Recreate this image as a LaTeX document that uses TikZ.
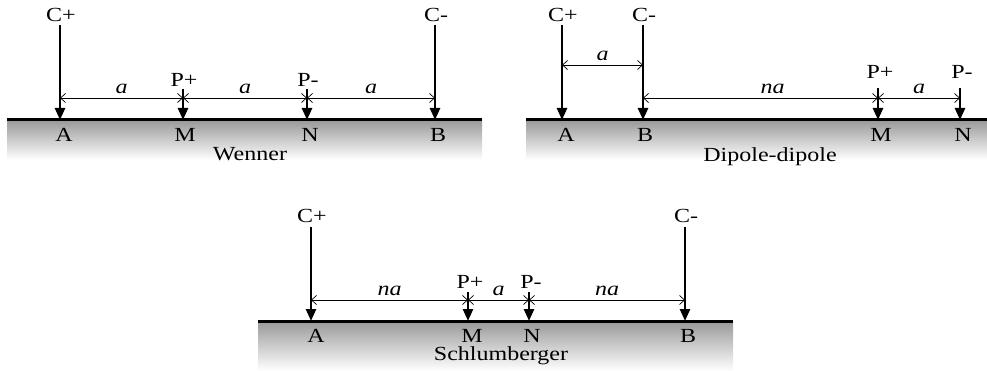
\documentclass[tikz,border=0pt]{standalone}
\usepackage{fontspec}
\setmainfont{Liberation Serif}[FakeStretch=1.2]
\usetikzlibrary{arrows.meta}

\begin{document}
\begin{tikzpicture}[x=1pt, y=-1pt,
  electrode/.style={line width=2.5pt, -{Triangle[length=12pt,width=10pt]}},
  dim/.style={line width=0.7pt, {Straight Barb[length=5pt,width=9pt]}-{Straight Barb[length=5pt,width=9pt]}},
  lbl/.style={font=\fontsize{20}{23}\selectfont, inner sep=1pt},
  ground/.style={line width=3pt},
  soil/.style={top color=black!40, bottom color=white, draw=none}]
\useasboundingbox (0,0) rectangle (987,371);

% Wenner
\shade[soil] (7,120) rectangle (482,160);
\draw[ground] (7,120) -- (482,120);
\coordinate (wA) at (60,120);
\coordinate (wM) at (183,120);
\coordinate (wN) at (307,120);
\coordinate (wB) at (435,120);
\node[lbl] (wCp) at (61,15) {C+};
\node[lbl] (wCm) at (436,15) {C-};
\node[lbl] (wPp) at (184,80) {P+};
\node[lbl] (wPm) at (308,80) {P-};
\coordinate (wAt) at (60,25);
\coordinate (wBt) at (435,25);
\coordinate (wMt) at (183,89);
\coordinate (wNt) at (307,89);
\draw[electrode] (wAt) -- (wA);
\draw[electrode] (wBt) -- (wB);
\draw[electrode] (wMt) -- (wM);
\draw[electrode] (wNt) -- (wN);
\coordinate (wdA) at (60,98);
\coordinate (wdM) at (183,98);
\coordinate (wdN) at (307,98);
\coordinate (wdB) at (435,98);
\draw[dim] (wdA) -- node[lbl, above=3pt] {\textit{a}} (wdM);
\draw[dim] (wdM) -- node[lbl, above=3pt] {\textit{a}} (wdN);
\draw[dim] (wdN) -- node[lbl, above=3pt] {\textit{a}} (wdB);
\node[lbl] (wAl) at (64,135) {A};
\node[lbl] (wMl) at (185,135) {M};
\node[lbl] (wNl) at (310,135) {N};
\node[lbl] (wBl) at (438,135) {B};
\node[lbl] (wTitle) at (250,154) {Wenner};

% Dipole-dipole
\shade[soil] (526,120) rectangle (987,160);
\draw[ground] (526,120) -- (987,120);
\coordinate (dA) at (562,120);
\coordinate (dB) at (643,120);
\coordinate (dM) at (878,120);
\coordinate (dN) at (960,120);
\node[lbl] (dCp) at (563,15) {C+};
\node[lbl] (dCm) at (644,15) {C-};
\node[lbl] (dPp) at (880,72) {P+};
\node[lbl] (dPm) at (962,72) {P-};
\coordinate (dAt) at (562,25);
\coordinate (dBt) at (643,25);
\coordinate (dMt) at (878,88);
\coordinate (dNt) at (960,88);
\draw[electrode] (dAt) -- (dA);
\draw[electrode] (dBt) -- (dB);
\draw[electrode] (dMt) -- (dM);
\draw[electrode] (dNt) -- (dN);
\coordinate (ddA) at (562,65);
\coordinate (ddB) at (643,65);
\coordinate (ddB2) at (643,98);
\coordinate (ddM) at (878,98);
\coordinate (ddN) at (960,98);
\draw[dim] (ddA) -- node[lbl, above=3pt] {\textit{a}} (ddB);
\draw[dim] (ddB2) -- node[lbl, above=3pt, xshift=12pt] {\textit{na}} (ddM);
\draw[dim] (ddM) -- node[lbl, above=3pt] {\textit{a}} (ddN);
\node[lbl] (dAl) at (566,135) {A};
\node[lbl] (dBl) at (645,135) {B};
\node[lbl] (dMl) at (881,135) {M};
\node[lbl] (dNl) at (963,135) {N};
\node[lbl] (dTitle) at (770,157) {Dipole-dipole};

% Schlumberger
\shade[soil] (258,321) rectangle (733,371);
\draw[ground] (258,321) -- (733,321);
\coordinate (sA) at (311,321);
\coordinate (sM) at (468,321);
\coordinate (sN) at (529,321);
\coordinate (sB) at (685,321);
\node[lbl] (sCp) at (312,216) {C+};
\node[lbl] (sCm) at (686,216) {C-};
\node[lbl] (sPp) at (470,282) {P+};
\node[lbl] (sPm) at (531,282) {P-};
\coordinate (sAt) at (311,227);
\coordinate (sBt) at (685,227);
\coordinate (sMt) at (468,292);
\coordinate (sNt) at (529,292);
\draw[electrode] (sAt) -- (sA);
\draw[electrode] (sBt) -- (sB);
\draw[electrode] (sMt) -- (sM);
\draw[electrode] (sNt) -- (sN);
\coordinate (sdA) at (311,300);
\coordinate (sdM) at (468,300);
\coordinate (sdN) at (529,300);
\coordinate (sdB) at (685,300);
\draw[dim] (sdA) -- node[lbl, above=3pt] {\textit{na}} (sdM);
\draw[dim] (sdM) -- node[lbl, above=3pt] {\textit{a}} (sdN);
\draw[dim] (sdN) -- node[lbl, above=3pt] {\textit{na}} (sdB);
\node[lbl] (sAl) at (316,336) {A};
\node[lbl] (sMl) at (472,336) {M};
\node[lbl] (sNl) at (532,336) {N};
\node[lbl] (sBl) at (688,336) {B};
\node[lbl] (sTitle) at (501,356) {Schlumberger};
\end{tikzpicture}
\end{document}
